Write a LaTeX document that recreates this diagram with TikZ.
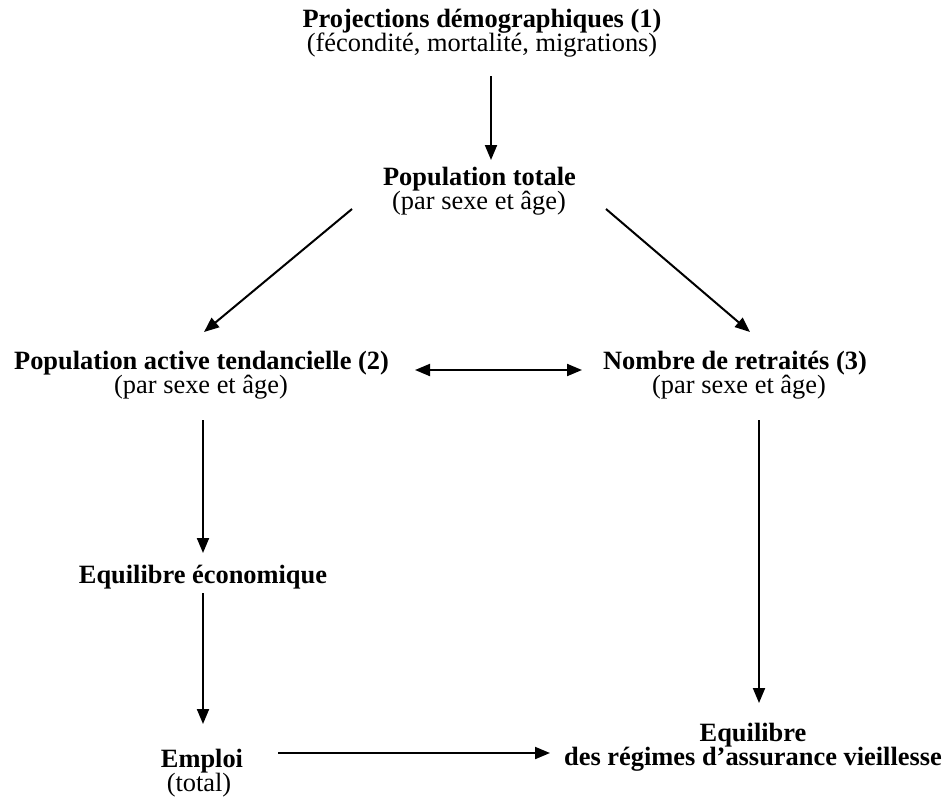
\documentclass[tikz,border=0pt]{standalone}
\usepackage{fontspec}
\setmainfont{Liberation Serif}
\usetikzlibrary{arrows.meta,calc}
\tikzset{
  txt/.style={inner sep=0pt, anchor=base, font=\fontsize{13.2pt}{15pt}\selectfont},
  ttl/.style={txt, font=\fontsize{13.2pt}{15pt}\selectfont\bfseries},
  arr/.style={line width=1pt, -{Triangle[length=7.5pt,width=6pt]}},
  darr/.style={line width=1pt, {Triangle[length=7.5pt,width=6pt]}-{Triangle[length=7.5pt,width=6pt]}}
}
\begin{document}
\begin{tikzpicture}[x=0.5pt,y=-0.5pt]
\useasboundingbox (0,0) rectangle (945,803);
% nodes
\node[ttl] (projt) at (482,27.5) {Projections démographiques (1)};
\node[txt] (projs) at (482,51) {(fécondité, mortalité, migrations)};
\node[ttl] (ptt) at (479.5,185) {Population totale};
\node[txt] (pts) at (479,209) {(par sexe et âge)};
\node[ttl] (pat) at (201.5,369) {Population active tendancielle (2)};
\node[txt] (pas) at (201,393) {(par sexe et âge)};
\node[ttl] (nrt) at (735,369) {Nombre de retraités (3)};
\node[txt] (nrs) at (739,393) {(par sexe et âge)};
\node[ttl] (eco) at (203,583) {Equilibre économique};
\node[ttl] (empt) at (202,767) {Emploi};
\node[txt] (emps) at (199,791) {(total)};
\node[ttl] (eqt) at (753,741) {Equilibre};
\node[ttl] (eqs) at (753,765) {des régimes d’assurance vieillesse};
% connectors
\draw[arr] ($(projs.base)+(9,25)$) -- ($(ptt.base)+(11.5,-25)$);
\draw[arr] ($(pts.base)+(-127,0)$) -- ($(pat.base)+(2.5,-37)$);
\draw[arr] ($(pts.base)+(127,0)$) -- ($(nrt.base)+(15,-37)$);
\draw[darr] ($(pat.base)+(213.5,1)$) -- ($(nrt.base)+(-153,1)$);
\draw[arr] ($(pas.base)+(2,27)$) -- ($(eco.base)+(0,-30)$);
\draw[arr] ($(eco.base)+(0,10)$) -- ($(empt.base)+(1,-43)$);
\draw[arr] ($(empt.base)+(76,-14)$) -- ($(eqs.base)+(-203,-12)$);
\draw[arr] ($(nrs.base)+(20,27)$) -- ($(eqt.base)+(6,-38)$);
\end{tikzpicture}
\end{document}
